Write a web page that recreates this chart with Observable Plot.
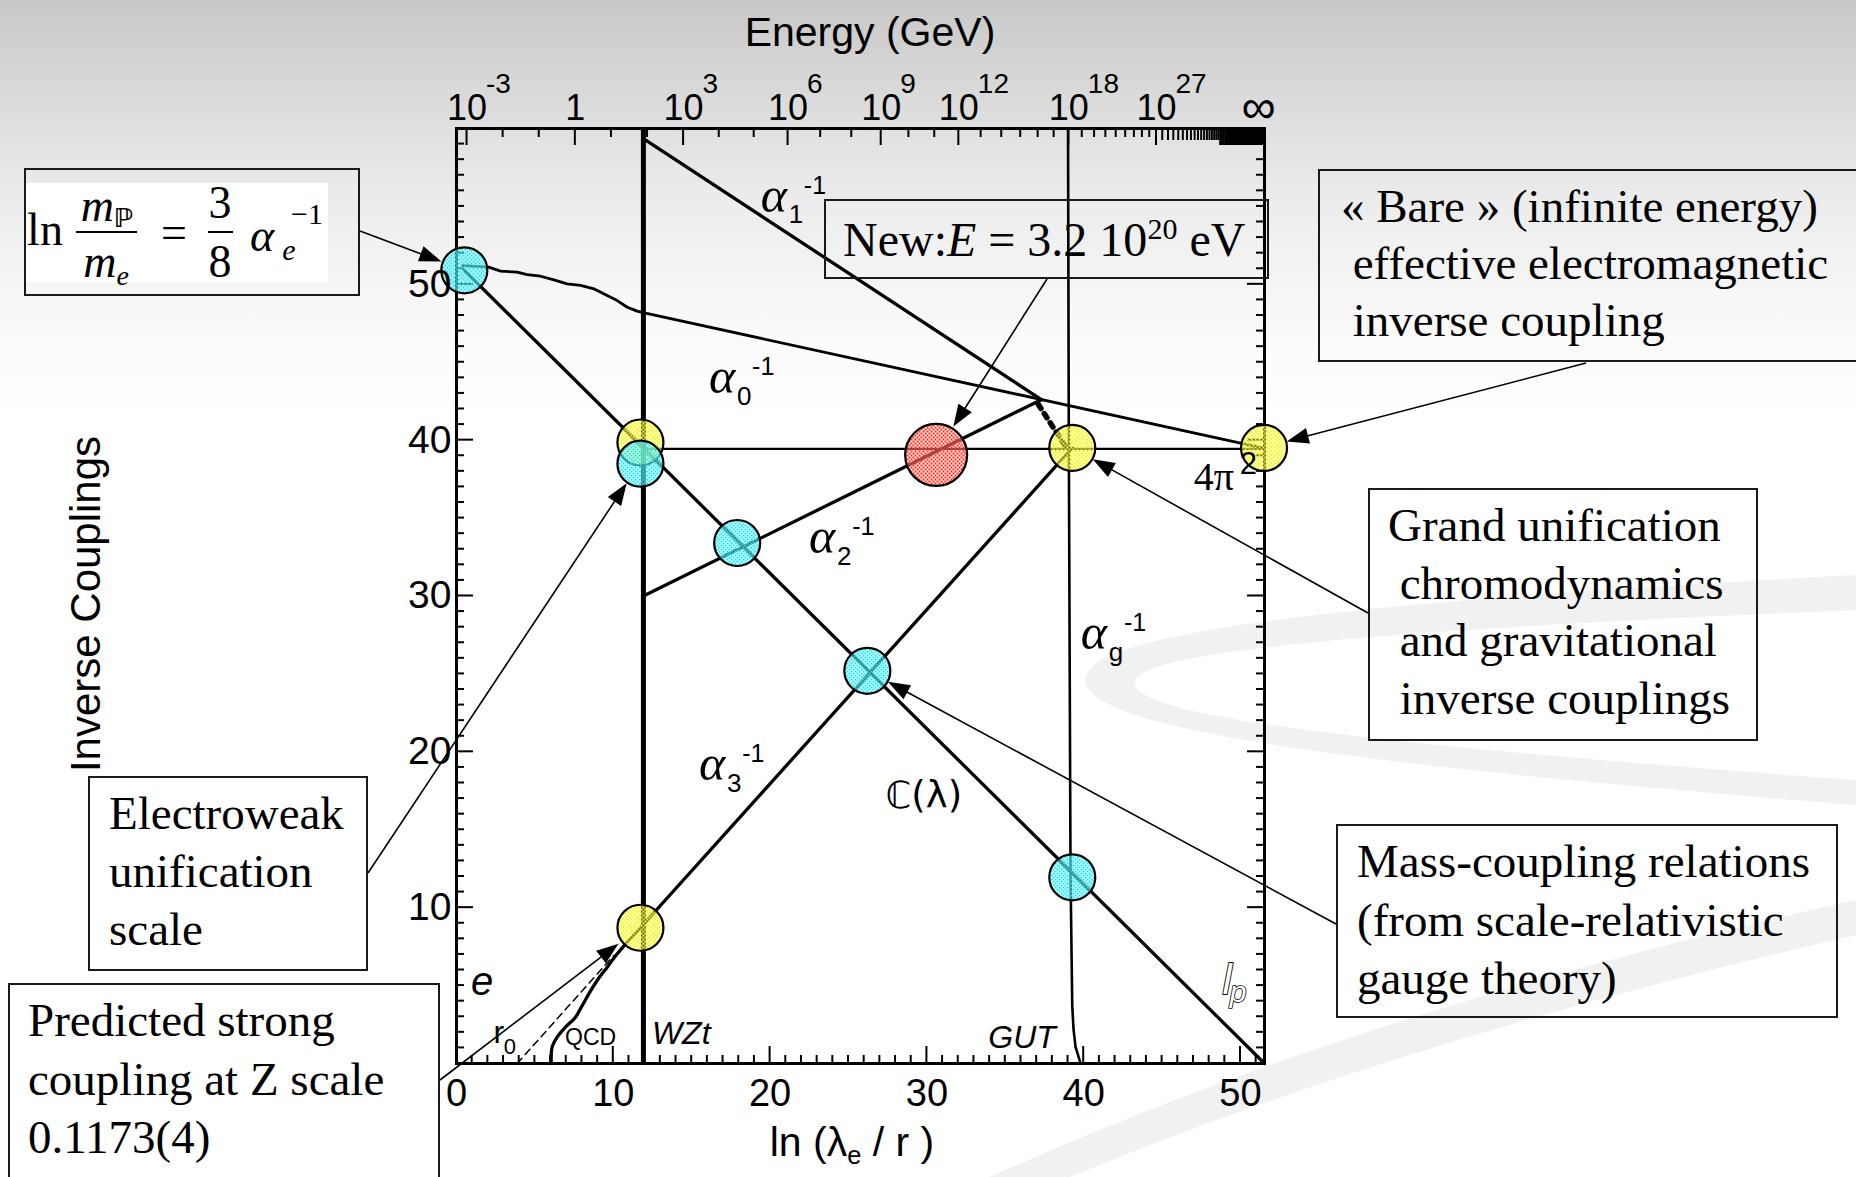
<!DOCTYPE html>
<html>
<head>
<meta charset="utf-8">
<script src="https://cdn.jsdelivr.net/npm/d3@7"></script>
<script src="https://cdn.jsdelivr.net/npm/@observablehq/plot@0.6"></script>
<style>
html,body{margin:0;padding:0;}
body{width:1856px;height:1177px;position:relative;overflow:hidden;
  background:linear-gradient(to bottom,#c8c8c8 0px,#d9d9d9 90px,#ececec 200px,#fafafa 330px,#ffffff 420px,#ffffff 100%);
  font-family:"Liberation Sans",Arial,sans-serif;color:#000;}
#deco,#chart{position:absolute;left:0;top:0;}
.abs{position:absolute;white-space:nowrap;line-height:1;}
.box{position:absolute;border:2px solid #1a1a1a;box-sizing:border-box;
  font-family:"Liberation Serif","Times New Roman",serif;font-size:47px;}
.box .txt{position:absolute;white-space:pre;}
.serif{font-family:"Liberation Serif","Times New Roman",serif;}
sub.s{font-size:0.62em;vertical-align:-0.32em;line-height:0;}
</style>
</head>
<body>
<svg id="deco" width="1856" height="1177"></svg>
<div id="chart"></div>
<div id="notes"></div>
<script>
// ---------------- data ----------------
const xMax = 51.53;                 // ln(lambda_e / l_P)
const yMax = 60;
const bottomTicks = [0, 10, 20, 30, 40, 50];
const leftTicks = [10, 20, 30, 40, 50];
const energyLabelExps = [-3, 0, 3, 6, 9, 12, 18, 27];
const energyLabelBase = ["10", "1", "10", "10", "10", "10", "10", "10"];
const energyLabelSup  = ["-3", "", "3", "6", "9", "12", "18", "27"];
const electronMassGeV = 0.511e-3;
const zMassGeV = 91.19;

const wztX = 11.92;
const alpha0Curve = [[0.4,51.2],[2.06,51.1],[2.81,50.85],[3.87,50.78],[4.51,50.63],[5.36,50.52],[6.21,50.29],
  [7.06,50.03],[7.91,49.93],[8.76,49.71],[9.61,49.28],[10.25,48.96],[10.89,48.53],[11.52,48.28],[12.05,48.15],[51.53,39.48]];
const alpha1Line = [[11.92,59.35],[37.3,42.6]];
const alpha2Line = [[11.92,30.0],[37.3,42.6]];
const qcdCurve = [[6.04,0],[6.10,1.05],[6.42,1.69],[6.95,2.33],[7.59,2.97],[8.02,3.72],[8.44,4.47],
  [8.97,5.33],[9.61,6.18],[10.25,7.04],[10.89,7.79],[11.73,8.71]];
const alpha3Line = [[11.73,8.71],[39.27,39.5]];
const massCouplingLine = [[0.5,50.9],[51.53,0]];
const fourPiSqLine = [[11.92,39.44],[51.53,39.44]];
const gravityCurve = [[39.0,60],[39.05,40],[39.16,12],[39.27,3.7],[39.35,2.2],[39.48,1.07],[39.8,0]];
const gutDotted = [[37.1,42.3],[38.9,39.5]];
const r0Dashed = [[3.87,0],[10.03,6.93]];

const circles = [
  {x:11.73, y:39.85, kind:"yellow"},
  {x:11.73, y:8.71,  kind:"yellow"},
  {x:39.27, y:39.5,  kind:"yellow"},
  {x:51.5,  y:39.5,  kind:"yellow"},
  {x:0.5,   y:50.9,  kind:"cyan"},
  {x:11.73, y:38.49, kind:"cyan"},
  {x:17.9,  y:33.4,  kind:"cyan"},
  {x:26.2,  y:25.2,  kind:"cyan"},
  {x:39.27, y:11.95, kind:"cyan"},
  {x:30.59, y:39.05, kind:"red"}
];

const alphaLabels = [
  {x:20.24, y:55.7,  sub:"1"},
  {x:16.94, y:44.04, sub:"0"},
  {x:23.32, y:33.76, sub:"2"},
  {x:16.31, y:19.19, sub:"3"},
  {x:40.65, y:27.6,  sub:"g"}
];
const italicSansLabels = [
  {x:1.64,  y:5.22, text:"e",   size:40},
  {x:14.33, y:1.93, text:"WZt", size:32},
  {x:36.07, y:1.67, text:"GUT", size:32}
];
const qcdLabel = [{x:8.55, y:1.69, text:"QCD"}];
const r0Label = [{x:2.7, y:2.0}];
const planckLabel = [{x:49.15, y:5.33}];
const complexLabel = [{x:29.8, y:17.18, text:"\u2102(\u03bb)"}];
const fourPiLabel = [{x:48.3, y:37.62}];

// annotation texts (HTML boxes) and arrows to data points
const noteTexts = {
  bare: ["\u00ab Bare \u00bb (infinite energy)", " effective electromagnetic", " inverse coupling"],
  gut: ["Grand unification", " chromodynamics", " and gravitational", " inverse couplings"],
  mass: ["Mass-coupling relations", "(from scale-relativistic", "gauge theory)"],
  ew: ["Electroweak", "unification", "scale"],
  pred: ["Predicted strong", "coupling at Z scale", "0.1173(4)"]
};
const arrowTargets = [
  {from:"formula", x:0.5,   y:50.9,  gap:24},
  {from:"bare",    x:51.5,  y:39.5,  gap:24},
  {from:"gut",     x:39.27, y:39.5,  gap:24},
  {from:"mass",    x:26.2,  y:25.2,  gap:24},
  {from:"ew",      x:11.73, y:38.49, gap:24},
  {from:"pred",    x:11.73, y:8.71,  gap:27},
  {from:"newE",    x:30.59, y:39.05, gap:33}
];

// ---------------- layout ----------------
const layout = {
  width:1856, height:1177, left:456, right:1264, top:128, bottom:1063,
  boxes: {
    bare: {l:1318, t:169, w:540, h:193, padL:23, padT:9,  lh:57},
    gut:  {l:1368, t:488, w:390, h:253, padL:20, padT:9,  lh:57.5},
    mass: {l:1336, t:824, w:502, h:194, padL:21, padT:8,  lh:58.5},
    ew:   {l:88,   t:776, w:280, h:195, padL:21, padT:8,  lh:58},
    pred: {l:8,    t:983, w:432, h:210, padL:20, padT:8,  lh:58.5}
  },
  arrowStarts: {formula:[360,231], bare:[1586,363], gut:[1368,613], mass:[1336,924], ew:[368,873], pred:[440,1080], newE:[1047,279]}
};

// energy axis (scale-relativistic log-Lorentzian law above the Z scale)
function energyToLn(log10E) {
  const lnE = log10E * Math.LN10;
  const lnZ = Math.log(zMassGeV / electronMassGeV);
  if (lnE <= Math.log(zMassGeV)) return lnE - Math.log(electronMassGeV);
  const L = lnE - Math.log(zMassGeV), C = xMax - lnZ;
  return lnZ + L / Math.sqrt(1 + (L * L) / (C * C));
}
const energyTickExps = d3.range(-3, 301);

// ---------------- custom marks ----------------
function ticksMark(index, scales) {
  const x = scales.x, y = scales.y;
  const g = d3.create("svg:g").attr("stroke", "#000").attr("stroke-width", 2).attr("fill", "none");
  const X0 = x(0), X1 = x(xMax), Y0 = y(0), Y1 = y(yMax);
  for (let v = 1; v < xMax; v++) {
    const len = v % 10 === 0 ? 17 : 8;
    g.append("line").attr("x1", x(v)).attr("x2", x(v)).attr("y1", Y0).attr("y2", Y0 - len);
  }
  for (let v = 1; v < yMax; v++) {
    const len = v % 10 === 0 ? 17 : 8;
    g.append("line").attr("x1", X0).attr("x2", X0 + len).attr("y1", y(v)).attr("y2", y(v));
    g.append("line").attr("x1", X1).attr("x2", X1 - len).attr("y1", y(v)).attr("y2", y(v));
  }
  for (const n of energyTickExps) {
    const px = x(energyToLn(n));
    if (px > X1) continue;
    let len = 9;
    if (energyLabelExps.includes(n)) len = 17;
    else if (n >= 45) len = 17;
    else if (n >= 28) len = 12;
    g.append("line").attr("x1", px).attr("x2", px).attr("y1", Y1).attr("y2", Y1 + len).attr("stroke-width", 2);
  }
  return g.node();
}

function arrowsMark(index, scales) {
  const g = d3.create("svg:g");
  for (const a of arrowTargets) {
    const [sx, sy] = layout.arrowStarts[a.from];
    const tx = scales.x(a.x), ty = scales.y(a.y);
    const dx = tx - sx, dy = ty - sy, L = Math.hypot(dx, dy), ux = dx / L, uy = dy / L;
    const ex = tx - ux * a.gap, ey = ty - uy * a.gap;
    const hl = 22, hw = 8;
    const bx = ex - ux * hl, by = ey - uy * hl;
    g.append("line").attr("x1", sx).attr("y1", sy).attr("x2", bx + ux * 2).attr("y2", by + uy * 2)
      .attr("stroke", "#000").attr("stroke-width", 1.6);
    g.append("path").attr("d", `M${ex},${ey}L${bx - uy * hw},${by + ux * hw}L${bx + uy * hw},${by - ux * hw}Z`).attr("fill", "#000");
  }
  return g.node();
}

const P = d => d[0], Q = d => d[1];
const serif = "Liberation Serif, Times New Roman, serif";
const sans = "Liberation Sans, Arial, sans-serif";

const chart = Plot.plot({
  width: layout.width, height: layout.height,
  marginLeft: layout.left, marginRight: layout.width - layout.right,
  marginTop: layout.top, marginBottom: layout.height - layout.bottom,
  x: {domain: [0, xMax], axis: null},
  y: {domain: [0, yMax], axis: null},
  style: {background: "transparent", overflow: "visible"},
  marks: [
    ticksMark,
    Plot.ruleX([wztX], {y1: 0, y2: yMax, stroke: "#000", strokeWidth: 5}),
    Plot.line(gravityCurve, {x: P, y: Q, stroke: "#000", strokeWidth: 2.6}),
    Plot.line(fourPiSqLine, {x: P, y: Q, stroke: "#000", strokeWidth: 2.3}),
    Plot.line(alpha0Curve, {x: P, y: Q, stroke: "#000", strokeWidth: 2.8, strokeLinejoin: "round"}),
    Plot.line(alpha1Line, {x: P, y: Q, stroke: "#000", strokeWidth: 3.3}),
    Plot.line(alpha2Line, {x: P, y: Q, stroke: "#000", strokeWidth: 3.3}),
    Plot.line(qcdCurve, {x: P, y: Q, stroke: "#000", strokeWidth: 3.3, curve: "catmull-rom"}),
    Plot.line(alpha3Line, {x: P, y: Q, stroke: "#000", strokeWidth: 3.3}),
    Plot.line(massCouplingLine, {x: P, y: Q, stroke: "#000", strokeWidth: 3.3}),
    Plot.line(gutDotted, {x: P, y: Q, stroke: "#000", strokeWidth: 5.5, strokeDasharray: "5,6"}),
    Plot.line(r0Dashed, {x: P, y: Q, stroke: "#000", strokeWidth: 1.5, strokeDasharray: "7,5"}),
    Plot.frame({stroke: "#000", strokeWidth: 3}),
    Plot.dot(circles, {filter: d => d.kind === "yellow", x: "x", y: "y", r: 23, fill: "#fefe01", stroke: "#000", strokeWidth: 2.2}),
    Plot.dot(circles, {filter: d => d.kind === "cyan", x: "x", y: "y", r: 23, fill: "#02e6f3", stroke: "#000", strokeWidth: 2.2}),
    Plot.dot(circles, {filter: d => d.kind === "red", x: "x", y: "y", r: 31, fill: "#fe2a1b", stroke: "#000", strokeWidth: 2.2}),
    // tick labels
    Plot.text(bottomTicks, {x: d => d, y: 0, text: d => String(d), dy: 30, fontSize: 38, fontFamily: sans}),
    Plot.text(leftTicks, {x: 0, y: d => d, text: d => String(d), dx: -5, textAnchor: "end", fontSize: 39, fontFamily: sans}),
    Plot.text(energyLabelExps, {x: d => energyToLn(d), y: yMax, text: (d, i) => energyLabelBase[i], dy: -20, fontSize: 36, fontFamily: sans}),
    Plot.text(energyLabelExps, {x: d => energyToLn(d), y: yMax, text: (d, i) => energyLabelSup[i], dx: 19, dy: -44, textAnchor: "start", fontSize: 28, fontFamily: sans}),
    Plot.text([xMax], {x: d => d, y: yMax, text: () => "\u221e", dx: -6, dy: -21, fontSize: 48, fontFamily: sans}),
    // coupling labels
    Plot.text(alphaLabels, {x: "x", y: "y", text: () => "\u03b1", fontSize: 50, fontStyle: "italic", fontFamily: serif}),
    Plot.text(alphaLabels, {x: "x", y: "y", text: "sub", dx: 22, dy: 19, fontSize: 26, fontFamily: sans}),
    Plot.text(alphaLabels, {x: "x", y: "y", text: () => "-1", dx: 30, dy: -10, textAnchor: "start", fontSize: 25, fontFamily: sans}),
    Plot.text(italicSansLabels, {x: "x", y: "y", text: "text", fontSize: d => d.size, fontStyle: "italic", fontFamily: sans}),
    Plot.text(qcdLabel, {x: "x", y: "y", text: "text", fontSize: 23, fontFamily: sans}),
    Plot.text(r0Label, {x: "x", y: "y", text: () => "r", fontSize: 32, fontFamily: sans}),
    Plot.text(r0Label, {x: "x", y: "y", text: () => "0", dx: 11, dy: 15, fontSize: 22, fontFamily: sans}),
    Plot.text(planckLabel, {x: "x", y: "y", text: () => "l", fontSize: 42, fontStyle: "italic", fontFamily: sans, fill: "#fff", stroke: "#000", strokeWidth: 1.8}),
    Plot.text(planckLabel, {x: "x", y: "y", text: () => "p", dx: 11, dy: 12, fontSize: 30, fontStyle: "italic", fontFamily: sans, fill: "#fff", stroke: "#000", strokeWidth: 1.6}),
    Plot.text(complexLabel, {x: "x", y: "y", text: "text", fontSize: 37, fontFamily: "DejaVu Sans, sans-serif"}),
    Plot.text(fourPiLabel, {x: "x", y: "y", text: () => "4\u03c0", fontSize: 40, fontFamily: serif}),
    Plot.text(fourPiLabel, {x: "x", y: "y", text: () => "2", dx: 26, dy: -13, textAnchor: "start", fontSize: 31, fontFamily: sans}),
    arrowsMark
  ]
});
chart.setAttribute("id", "chartsvg");
document.getElementById("chart").appendChild(chart);

// hatched (checker) fills for the circles
const svgSel = d3.select(chart);
const defs = svgSel.insert("defs", ":first-child");
function pattern(id, color) {
  const p = defs.append("pattern").attr("id", id).attr("patternUnits", "userSpaceOnUse").attr("width", 4).attr("height", 4);
  p.append("rect").attr("width", 2).attr("height", 2).attr("fill", color);
  p.append("rect").attr("x", 2).attr("y", 2).attr("width", 2).attr("height", 2).attr("fill", color);
  p.append("rect").attr("x", 2).attr("width", 2).attr("height", 2).attr("fill", "#fff").attr("fill-opacity", 0.35);
  p.append("rect").attr("y", 2).attr("width", 2).attr("height", 2).attr("fill", "#fff").attr("fill-opacity", 0.35);
}
pattern("patY", "#f6f600"); pattern("patC", "#10eaf4"); pattern("patR", "#ff2a1a");
const fillMap = {"#fefe01": "url(#patY)", "#02e6f3": "url(#patC)", "#fe2a1b": "url(#patR)"};
svgSel.selectAll("[fill]").each(function() {
  const f = (this.getAttribute("fill") || "").toLowerCase();
  if (fillMap[f]) this.setAttribute("fill", fillMap[f]);
});

// faint background swoosh decoration
const deco = d3.select("#deco");
deco.append("path").attr("fill", "#f1f1f1")
  .attr("d", "M1856,575 C1480,595 1115,622 1088,672 C1064,716 1220,755 1856,805 L1856,780 C1340,742 1125,715 1135,680 C1148,645 1500,625 1856,610 Z");
deco.append("path").attr("fill", "#f1f1f1")
  .attr("d", "M990,1177 Q1360,1010 1856,900 L1856,935 Q1400,1040 1070,1177 Z");

// ---------------- HTML annotations ----------------
const notes = document.getElementById("notes");
function addDiv(cls, css, html) {
  const d = document.createElement("div");
  d.className = cls; d.style.cssText = css; d.innerHTML = html;
  notes.appendChild(d); return d;
}
for (const key of Object.keys(noteTexts)) {
  const b = layout.boxes[key];
  const box = addDiv("box", `left:${b.l}px;top:${b.t}px;width:${b.w}px;height:${b.h}px;`, "");
  noteTexts[key].forEach((line, i) => {
    const t = document.createElement("div");
    t.className = "txt";
    t.style.cssText = `left:${b.padL - 2}px;top:${b.padT - 2 + i * b.lh}px;line-height:${b.lh}px;`;
    t.textContent = line;
    box.appendChild(t);
  });
}
// New: E box
addDiv("box", "left:824px;top:199px;width:445px;height:80px;",
  `<div class="txt" style="left:17px;top:0;line-height:78px;font-size:48px;">New:<i>E</i> = 3.2 10<span style="font-size:30px;position:relative;top:-17px;">20</span> eV</div>`);

// formula box
addDiv("box", "left:24px;top:168px;width:336px;height:128px;", "");
addDiv("abs", "left:26px;top:183px;width:302px;height:99px;background:#fff;", "");
const F = 46;
function place(html, cx, cy, size, extra) {
  addDiv("abs serif", `left:${cx}px;top:${cy}px;font-size:${size}px;transform:translate(-50%,-50%);${extra || ""}`, html);
}
place("ln", 45, 230, F);
place("<i>m</i><span style='font-family:DejaVu Sans;font-size:26px;position:relative;top:6px;font-weight:bold;letter-spacing:-2px'>\u2119</span>", 106, 206, F);
addDiv("abs", "left:76px;top:231px;width:61px;height:2px;background:#000;", "");
place("<i>m</i><span style='font-size:28px;position:relative;top:8px;font-style:italic'>e</span>", 106, 262, F);
place("=", 174, 233, F);
place("3", 220, 203, F);
addDiv("abs", "left:208px;top:231px;width:25px;height:2px;background:#000;", "");
place("8", 220, 262, F);
place("<i>\u03b1</i>", 262, 236, F);
place("<i>e</i>", 289, 250, 30);
place("\u22121", 307, 214, 30);

// axis titles
addDiv("abs", "left:870px;top:32px;font-size:41px;transform:translate(-50%,-50%);", "Energy (GeV)");
addDiv("abs", "left:86px;top:604px;font-size:42px;transform:translate(-50%,-50%) rotate(-90deg);", "Inverse Couplings");
addDiv("abs", "left:852px;top:1142px;font-size:41px;transform:translate(-50%,-50%);", "ln (\u03bb<sub class='s'>e</sub> / r )");
</script>
</body>
</html>
